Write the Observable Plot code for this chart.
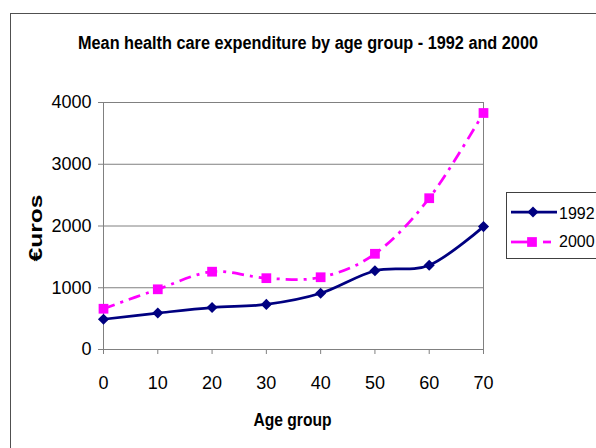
<!DOCTYPE html>
<html>
<head>
<meta charset="utf-8">
<script src="https://cdn.jsdelivr.net/npm/d3@7"></script>
<script src="https://cdn.jsdelivr.net/npm/@observablehq/plot@0.6"></script>
<style>
  html, body { margin: 0; padding: 0; background: #fff; }
  #chart svg { display: block; }
</style>
</head>
<body>
<div id="chart"></div>
<script>
// ---- Data ----
const ages = [0, 10, 20, 30, 40, 50, 60, 70];
const exp1992 = [490, 590, 680, 730, 910, 1275, 1365, 1990];
const exp2000 = [660, 975, 1260, 1155, 1170, 1550, 2450, 3830];
const yTicks = [0, 1000, 2000, 3000, 4000];
const seriesNames = ["1992", "2000"];
const titleText = "Mean health care expenditure by age group - 1992 and 2000";
const xLabel = "Age group";
const yLabel = "€uros";

const d1992 = ages.map((a, i) => ({age: a, value: exp1992[i]}));
const d2000 = ages.map((a, i) => ({age: a, value: exp2000[i]}));

const navy = "#000080";
const magenta = "#FF00FF";
const grid = "#808080";
const dash = "12,6,3,6";
const font = "'Liberation Sans', Arial, Helvetica, sans-serif";
const rDiamond = 5;
const rSquare = 5.5;

const chart = Plot.plot({
  width: 596,
  height: 448,
  marginLeft: 103,
  marginRight: 113,
  marginTop: 102,
  marginBottom: 99,
  style: {fontFamily: font, fontSize: "18px", color: "#000", background: "#fff"},
  x: {domain: [0, 70]},
  y: {domain: [0, 4000]},
  marks: [
    Plot.ruleY(yTicks, {stroke: grid, strokeWidth: 1}),
    Plot.frame({stroke: grid, strokeWidth: 1}),
    Plot.axisX({ticks: ages, tickSize: 5, tickPadding: 22, stroke: grid, fill: "#000", label: null, fontSize: 18, tickFormat: d3.format("d")}),
    Plot.axisY({ticks: yTicks, tickSize: 5, tickPadding: 7, stroke: grid, fill: "#000", label: null, fontSize: 18, tickFormat: d3.format("d")}),
    Plot.line(d2000, {x: "age", y: "value", stroke: magenta, strokeWidth: 2.75, strokeDasharray: dash, strokeLinecap: "butt", curve: "cardinal", tension: 0}),
    Plot.line(d1992, {x: "age", y: "value", stroke: navy, strokeWidth: 2.75, curve: "cardinal", tension: 0}),
    Plot.dot(d2000, {x: "age", y: "value", symbol: "square", r: rSquare, fill: magenta, stroke: "none"}),
    Plot.dot(d1992, {x: "age", y: "value", symbol: "diamond2", r: rDiamond, fill: navy, stroke: "none"})
  ]
});

document.getElementById("chart").appendChild(chart);

// ---- Decorations: border, title, axis labels, legend ----
const svg = d3.select(chart);

svg.insert("rect", ":first-child")
  .attr("x", 10.5).attr("y", 13.5).attr("width", 600).attr("height", 450)
  .attr("fill", "#fff").attr("stroke", "#505050").attr("stroke-width", 1);

svg.append("text")
  .attr("x", 308).attr("y", 49)
  .attr("text-anchor", "middle")
  .attr("font-family", font).attr("font-weight", "bold").attr("font-size", 18)
  .attr("textLength", 460).attr("lengthAdjust", "spacingAndGlyphs")
  .attr("fill", "#000")
  .text(titleText);

svg.append("text")
  .attr("x", 292.5).attr("y", 426)
  .attr("text-anchor", "middle")
  .attr("font-family", font).attr("font-weight", "bold").attr("font-size", 19)
  .attr("textLength", 78).attr("lengthAdjust", "spacingAndGlyphs")
  .attr("fill", "#000")
  .text(xLabel);

svg.append("text")
  .attr("transform", "translate(41.5,228) rotate(-90)")
  .attr("text-anchor", "middle")
  .attr("font-family", font).attr("font-weight", "bold").attr("font-size", 18)
  .attr("textLength", 67).attr("lengthAdjust", "spacingAndGlyphs")
  .attr("fill", "#000")
  .text(yLabel);

// legend
const lg = svg.append("g").attr("text-anchor", "start");
lg.append("rect")
  .attr("x", 506.5).attr("y", 192.5).attr("width", 100).attr("height", 66)
  .attr("fill", "#fff").attr("stroke", "#404040").attr("stroke-width", 1);

// 1992 entry
lg.append("line").attr("x1", 511).attr("x2", 557).attr("y1", 212).attr("y2", 212)
  .attr("stroke", navy).attr("stroke-width", 2.75);
lg.append("path").attr("d", d3.symbol(d3.symbolDiamond2, Math.PI * rDiamond * rDiamond)())
  .attr("transform", "translate(533,212)").attr("fill", navy);
lg.append("text").attr("x", 559).attr("y", 218.5).attr("text-anchor", "start")
  .attr("font-family", font).attr("font-size", 16).attr("fill", "#000").text(seriesNames[0]);

// 2000 entry
lg.append("line").attr("x1", 511).attr("x2", 533).attr("y1", 242).attr("y2", 242)
  .attr("stroke", magenta).attr("stroke-width", 2.75);
lg.append("line").attr("x1", 543).attr("x2", 551).attr("y1", 242).attr("y2", 242)
  .attr("stroke", magenta).attr("stroke-width", 2.75);
lg.append("path").attr("d", d3.symbol(d3.symbolSquare, Math.PI * rSquare * rSquare)())
  .attr("transform", "translate(532,242)").attr("fill", magenta);
lg.append("text").attr("x", 559).attr("y", 247).attr("text-anchor", "start")
  .attr("font-family", font).attr("font-size", 16).attr("fill", "#000").text(seriesNames[1]);
</script>
</body>
</html>
